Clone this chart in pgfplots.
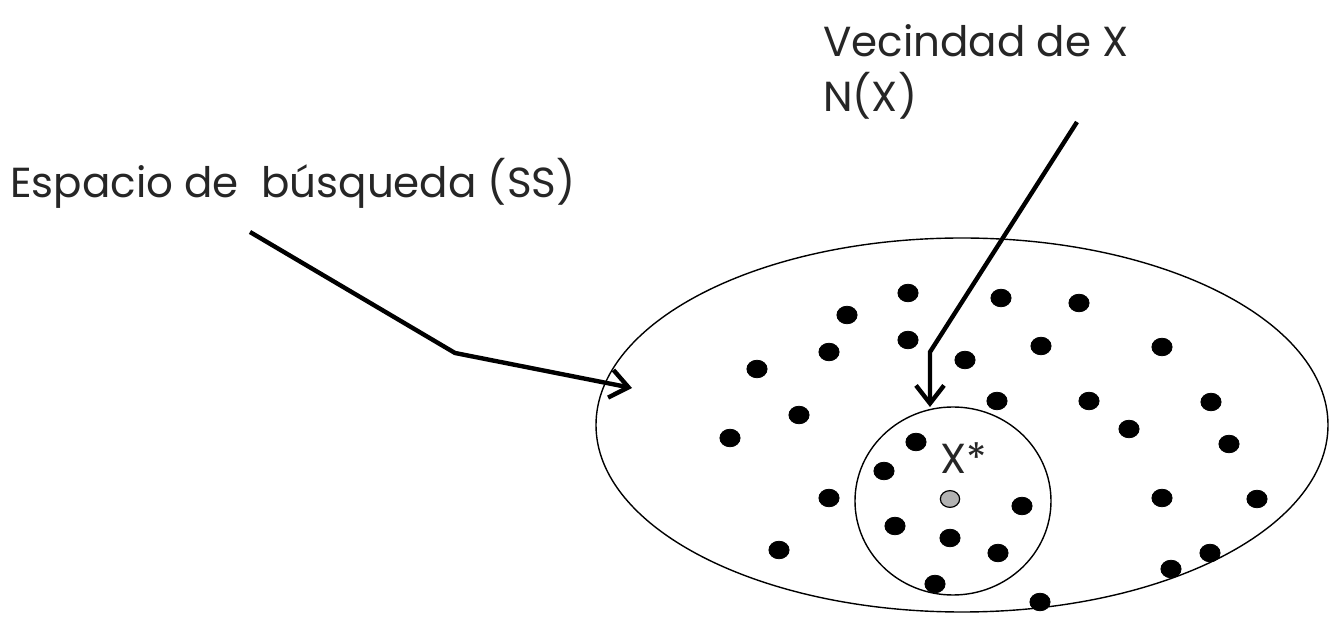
\documentclass[border=0pt]{standalone}
\usepackage{pgfplots}
\pgfplotsset{compat=1.18}
\usetikzlibrary{arrows.meta}
\usepackage{fontspec}
\setmainfont{Poppins}
\begin{document}
\begin{tikzpicture}
\begin{axis}[
  scale only axis, width=665pt, height=320.5pt,
  xmin=0, xmax=1330, ymin=0, ymax=641, y dir=reverse,
  hide axis, clip=false,
]
\path (rel axis cs:0,0) rectangle (rel axis cs:1,1);
% search space and neighbourhood
\draw[line width=0.7pt] (axis cs:962,425) ellipse [x radius=366, y radius=187];
\draw[line width=0.7pt] (axis cs:953,501) ellipse [x radius=98, y radius=94];
% solutions
\addplot[only marks, mark=*, mark size=4.4pt, mark options={xscale=1.15, fill=black}]
coordinates {
 (908,293) (1001,298) (1079,303) (847,315) (908,340) (829,352) (965,360)
 (1041,346) (1162,347) (757,369) (997,401) (1089,401) (1211,402) (799,415)
 (1129,429) (730,438) (916,442) (1229,444) (884,471) (829,498) (1022,506)
 (1162,498) (1257,499) (895,526) (950,538) (998,553) (779,550) (1210,553)
 (1171,569) (935,584) (1040,602)
};
\addplot[only marks, mark=*, mark size=4.2pt, mark options={xscale=1.15, fill=black!30, draw=black, line width=0.6pt}]
coordinates {(950,499)};
% arrows
\addplot[line width=2.2pt, line join=miter, -{Straight Barb[length=9pt, width=14pt, line width=2.2pt]}]
coordinates {(250,232) (455,353) (632,388)};
\addplot[line width=2.2pt, line join=miter, -{Straight Barb[length=9pt, width=14pt, line width=2.2pt]}]
coordinates {(1077,122) (930,352) (930,407)};
% labels
\node[anchor=base west, inner sep=0pt, text=black!85, font=\fontsize{21pt}{25pt}\selectfont] at (axis cs:10,198) {Espacio de\ \ búsqueda (SS)};
\node[anchor=base west, inner sep=0pt, text=black!85, font=\fontsize{21pt}{25pt}\selectfont] at (axis cs:823,57) {Vecindad de X};
\node[anchor=base west, inner sep=0pt, text=black!85, font=\fontsize{21pt}{25pt}\selectfont] at (axis cs:823,112) {N(X)};
\node[anchor=base west, inner sep=0pt, text=black!85, font=\fontsize{21pt}{25pt}\selectfont] at (axis cs:940,474) {X*};
\end{axis}
\end{tikzpicture}
\end{document}
